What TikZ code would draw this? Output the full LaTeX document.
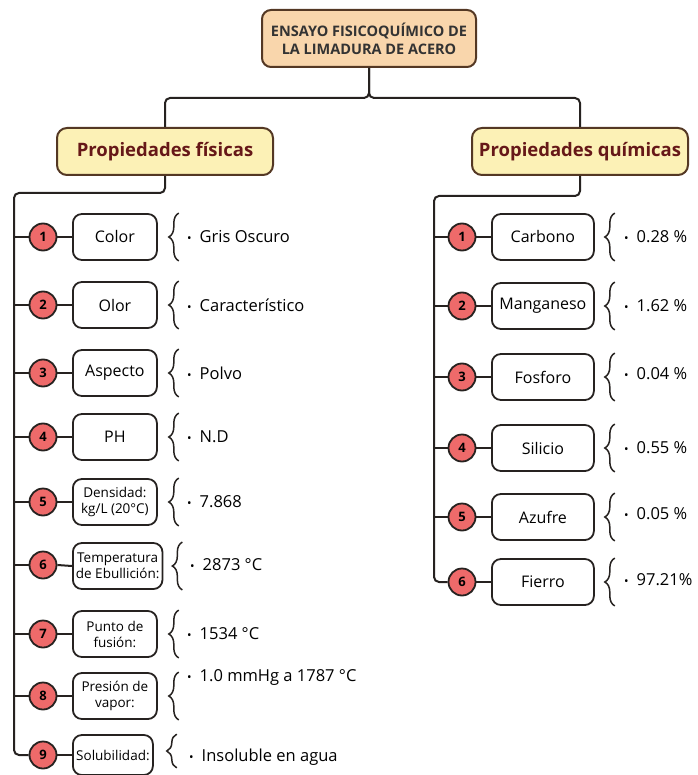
\documentclass[tikz,border=0pt]{standalone}
\usepackage{fontspec}
\setmainfont{Open Sans}
\usepackage{tikz}
\usetikzlibrary{decorations.pathreplacing}

\definecolor{linecol}{RGB}{38,34,32}
\definecolor{peach}{RGB}{249,214,172}
\definecolor{cream}{RGB}{252,241,182}
\definecolor{brownline}{RGB}{84,56,36}
\definecolor{maroon}{RGB}{102,24,24}
\definecolor{numred}{RGB}{238,106,106}

\tikzset{
  conn/.style={draw=linecol, line width=2pt, rounded corners=5pt},
  mainbox/.style={draw=brownline, fill=peach, line width=2pt, rounded corners=9pt, minimum width=214pt, minimum height=57pt, align=center, font=\fontsize{14.5}{18}\selectfont\bfseries, text=black!80},
  catbox/.style={draw=brownline, fill=cream, line width=2pt, rounded corners=10pt, minimum width=216pt, minimum height=47pt, font=\fontsize{18.5}{21}\selectfont\bfseries, text=maroon},
  numdot/.style={circle, draw=linecol, fill=numred, line width=1.8pt, minimum size=27pt, inner sep=0pt, font=\fontsize{13}{13}\selectfont\bfseries},
  propbox/.style={draw=linecol, line width=1.8pt, rounded corners=9pt, minimum width=84pt, minimum height=46pt, inner sep=3pt, align=center, anchor=west, font=\fontsize{16}{18}\selectfont},
  smallbox/.style={propbox, font=\fontsize{13.5}{16}\selectfont},
  brc/.style={draw=linecol, line width=1.5pt, decorate, decoration={brace, amplitude=10pt}},
  val/.style={anchor=west, inner sep=0pt, font=\fontsize{16.5}{18}\selectfont}
}
\newcommand{\dotitem}[1]{{\fontsize{12}{12}\selectfont\textbullet}\hspace{8pt}#1}

\begin{document}
\begin{tikzpicture}[x=1pt,y=1pt,yscale=-1,xscale=1]
    \useasboundingbox (0,0) rectangle (697,775);

    % Title
    \node [mainbox] (top) at (369,38.5) {ENSAYO FISICOQUÍMICO DE\\LA LIMADURA DE ACERO};
    % Categories
    \node [catbox] (fis) at (165,151.5) {Propiedades físicas};
    \node [catbox] (qui) at (580,151.5) {Propiedades químicas};

    \draw [conn] (top.south) -- ++(0,30) -| (fis.north);
    \draw [conn] (top.south) -- ++(0,30) -| (qui.north);

    \coordinate (lspine) at (14,193);
    \coordinate (rspine) at (434,196);

    %Left: numbers
    \node [numdot] (n1) at (43,237) {1};
    \node [numdot] (n2) at (43,305) {2};
    \node [numdot] (n3) at (43,373) {3};
    \node [numdot] (n4) at (43,437) {4};
    \node [numdot] (n5) at (43,502) {5};
    \node [numdot] (n6) at (43,565) {6};
    \node [numdot] (n7) at (43,634) {7};
    \node [numdot] (n8) at (43,696) {8};
    \node [numdot] (n9) at (43,755) {9};

    %Left: boxes
    \node [propbox] (b1) at (72,237) {Color};
    \node [propbox] (b2) at (72,305) {Olor};
    \node [propbox] (b3) at (72,373) {Aspecto};
    \node [propbox] (b4) at (72,437) {PH};
    \node [smallbox] (b5) at (72,502) {Densidad:\\kg/L (20°C)};
    \node [smallbox] (b6) at (72,566) {Temperatura\\de Ebullición:};
    \node [smallbox] (b7) at (72,634) {Punto de\\fusión:};
    \node [smallbox] (b8) at (72,696) {Presión de\\vapor:};
    \node [smallbox, minimum height=40pt, minimum width=80pt] (b9) at (72,755) {Solubilidad:};

    %Left: connectors
    \draw [conn] (fis.south) |- (lspine) |- (n9.west);
    \draw [conn] (lspine |- n1) -- (n1.west);
    \draw [conn] (lspine |- n2) -- (n2.west);
    \draw [conn] (lspine |- n3) -- (n3.west);
    \draw [conn] (lspine |- n4) -- (n4.west);
    \draw [conn] (lspine |- n5) -- (n5.west);
    \draw [conn] (lspine |- n6) -- (n6.west);
    \draw [conn] (lspine |- n7) -- (n7.west);
    \draw [conn] (lspine |- n8) -- (n8.west);
    \draw [conn] (n1.east) -- (b1.west);
    \draw [conn] (n2.east) -- (b2.west);
    \draw [conn] (n3.east) -- (b3.west);
    \draw [conn] (n4.east) -- (b4.west);
    \draw [conn] (n5.east) -- (b5.west);
    \draw [conn] (n6.east) -- (b6.west);
    \draw [conn] (n7.east) -- (b7.west);
    \draw [conn] (n8.east) -- (b8.west);
    \draw [conn] (n9.east) -- (b9.west);

    %Left: braces
    \draw [brc] ([xshift=21pt]b1.south east) -- ([xshift=21pt]b1.north east);
    \draw [brc] ([xshift=21pt]b2.south east) -- ([xshift=21pt]b2.north east);
    \draw [brc] ([xshift=21pt]b3.south east) -- ([xshift=21pt]b3.north east);
    \draw [brc] ([xshift=21pt]b4.south east) -- ([xshift=21pt]b4.north east);
    \draw [brc] ([xshift=21pt]b5.south east) -- ([xshift=21pt]b5.north east);
    \draw [brc] ([xshift=19pt]b6.south east) -- ([xshift=19pt]b6.north east);
    \draw [brc] ([xshift=21pt]b7.south east) -- ([xshift=21pt]b7.north east);
    \draw [brc] ([xshift=21pt]b8.south east) -- ([xshift=21pt]b8.north east);
    \draw [brc] ([xshift=23pt,yshift=-8pt]b9.south east) -- ([xshift=23pt]b9.north east);

    %Left: values
    \node [val] (v1) at (187,237) {\dotitem{Gris Oscuro}};
    \node [val] (v2) at (187,305) {\dotitem{Característico}};
    \node [val] (v3) at (187,373) {\dotitem{Polvo}};
    \node [val] (v4) at (187,437) {\dotitem{N.D}};
    \node [val] (v5) at (187,502) {\dotitem{7.868}};
    \node [val] (v6) at (190,565) {\dotitem{2873 °C}};
    \node [val] (v7) at (187,634) {\dotitem{1534 °C}};
    \node [val] (v8) at (187,677) {\dotitem{1.0 mmHg a 1787 °C}};
    \node [val] (v9) at (189,757) {\dotitem{Insoluble en agua}};

    %Right: numbers
    \node [numdot] (rn1) at (462,237) {1};
    \node [numdot] (rn2) at (462,306) {2};
    \node [numdot] (rn3) at (462,377) {3};
    \node [numdot] (rn4) at (462,448) {4};
    \node [numdot] (rn5) at (462,517) {5};
    \node [numdot] (rn6) at (462,582) {6};

    %Right: boxes
    \node [propbox, minimum width=102pt] (rb1) at (491,237) {Carbono};
    \node [propbox, minimum width=102pt] (rb2) at (491,306) {Manganeso};
    \node [propbox, minimum width=102pt] (rb3) at (491,377) {Fosforo};
    \node [propbox, minimum width=102pt] (rb4) at (491,448) {Silicio};
    \node [propbox, minimum width=102pt] (rb5) at (491,517) {Azufre};
    \node [propbox, minimum width=102pt] (rb6) at (491,582) {Fierro};

    %Right: connectors
    \draw [conn] (qui.south) |- (rspine) |- (rn6.west);
    \draw [conn] (rspine |- rn1) -- (rn1.west);
    \draw [conn] (rspine |- rn2) -- (rn2.west);
    \draw [conn] (rspine |- rn3) -- (rn3.west);
    \draw [conn] (rspine |- rn4) -- (rn4.west);
    \draw [conn] (rspine |- rn5) -- (rn5.west);
    \draw [conn] (rn1.east) -- (rb1.west);
    \draw [conn] (rn2.east) -- (rb2.west);
    \draw [conn] (rn3.east) -- (rb3.west);
    \draw [conn] (rn4.east) -- (rb4.west);
    \draw [conn] (rn5.east) -- (rb5.west);
    \draw [conn] (rn6.east) -- (rb6.west);

    %Right: braces
    \draw [brc] ([xshift=20pt]rb1.south east) -- ([xshift=20pt]rb1.north east);
    \draw [brc] ([xshift=20pt]rb2.south east) -- ([xshift=20pt]rb2.north east);
    \draw [brc] ([xshift=20pt]rb3.south east) -- ([xshift=20pt]rb3.north east);
    \draw [brc] ([xshift=20pt]rb4.south east) -- ([xshift=20pt]rb4.north east);
    \draw [brc] ([xshift=20pt]rb5.south east) -- ([xshift=20pt]rb5.north east);
    \draw [brc] ([xshift=20pt]rb6.south east) -- ([xshift=20pt]rb6.north east);

    %Right: values
    \node [val] (rv1) at (624,237) {\dotitem{0.28 \%}};
    \node [val] (rv2) at (624,306) {\dotitem{1.62 \%}};
    \node [val] (rv3) at (624,374) {\dotitem{0.04 \%}};
    \node [val] (rv4) at (624,448) {\dotitem{0.55 \%}};
    \node [val] (rv5) at (624,514) {\dotitem{0.05 \%}};
    \node [val] (rv6) at (624,580) {\dotitem{97.21\%}};

\end{tikzpicture}
\end{document}
